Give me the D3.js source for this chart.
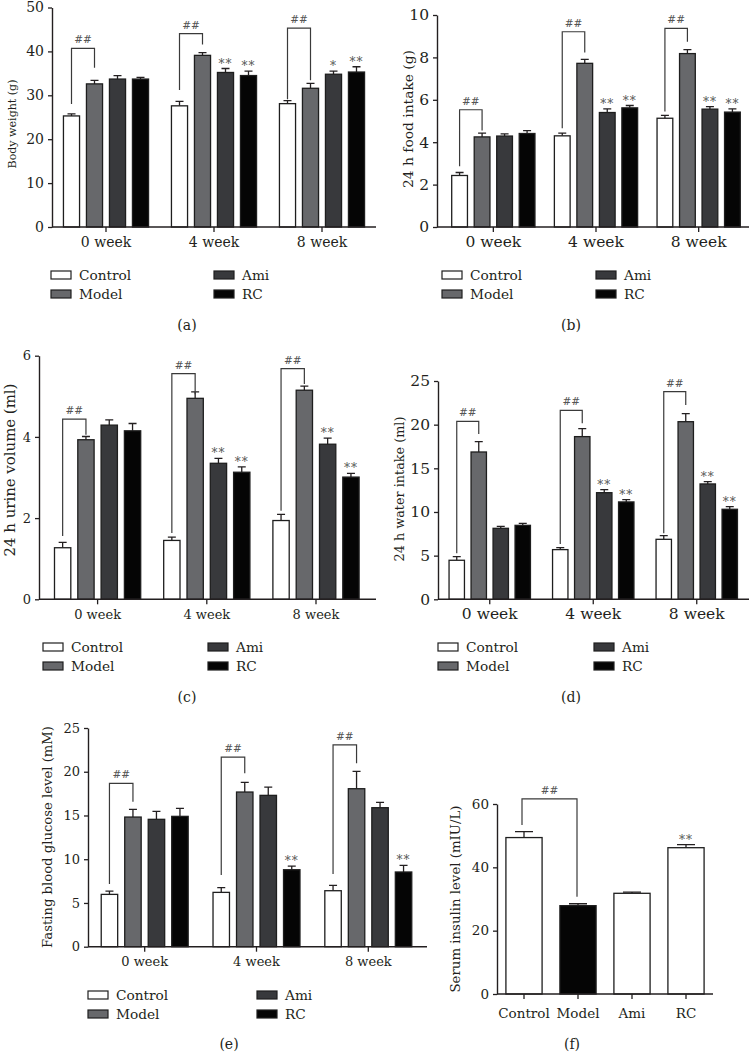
<!DOCTYPE html>
<html><head><meta charset="utf-8">
<script src="https://cdn.jsdelivr.net/npm/d3@7"></script>
<style>
body{margin:0;background:#fff}
svg text{font-family:"DejaVu Serif",serif;fill:#231f20}
</style>
</head><body>
<svg id="chart" width="750" height="1053"></svg>
<script>
// ---------- DATA ----------
const groups = ["0 week", "4 week", "8 week"];
const series = ["Control", "Model", "Ami", "RC"];

// rows = groups, columns = series
const bodyWeight     = [[25.3, 32.6, 33.7, 33.7], [27.6, 39.1, 35.2, 34.5], [28.1, 31.6, 34.8, 35.3]];
const bodyWeightErr  = [[0.45, 0.8, 0.8, 0.4], [1.0, 0.6, 0.9, 1.0], [0.7, 1.1, 0.7, 1.2]];
const bodyWeightSig  = [["", "", "", ""], ["", "", "**", "**"], ["", "", "*", "**"]];
const bodyWeightBrk  = [[40.7, 28.0, 36.3], [44.05, 31.2, 41.6], [45.3, 29.1, 33.4]];

const foodIntake     = [[2.43, 4.25, 4.29, 4.41], [4.30, 7.72, 5.40, 5.62], [5.13, 8.18, 5.56, 5.42]];
const foodIntakeErr  = [[0.14, 0.18, 0.10, 0.14], [0.13, 0.19, 0.17, 0.11], [0.14, 0.19, 0.12, 0.15]];
const foodIntakeSig  = [["", "", "", ""], ["", "", "**", "**"], ["", "", "**", "**"]];
const foodIntakeBrk  = [[5.53, 2.86, 4.55], [9.21, 4.66, 8.23], [9.37, 5.45, 8.74]];

const urineVolume    = [[1.27, 3.93, 4.29, 4.15], [1.45, 4.95, 3.35, 3.13], [1.94, 5.15, 3.82, 3.01]];
const urineVolumeErr = [[0.13, 0.08, 0.13, 0.18], [0.08, 0.16, 0.12, 0.13], [0.15, 0.10, 0.15, 0.09]];
const urineVolumeSig = [["", "", "", ""], ["", "", "**", "**"], ["", "", "**", "**"]];
const urineVolumeBrk = [[4.44, 1.56, 4.05], [5.56, 1.63, 5.05], [5.68, 2.18, 5.3]];

const waterIntake    = [[4.47, 16.87, 8.13, 8.47], [5.69, 18.63, 12.21, 11.15], [6.87, 20.34, 13.21, 10.31]];
const waterIntakeErr = [[0.42, 1.18, 0.23, 0.23], [0.23, 0.91, 0.35, 0.26], [0.42, 0.92, 0.26, 0.30]];
const waterIntakeSig = [["", "", "", ""], ["", "", "**", "**"], ["", "", "**", "**"]];
const waterIntakeBrk = [[20.38, 5.27, 18.93], [21.64, 6.34, 20.15], [23.78, 7.56, 22.25]];

const glucose        = [[5.98, 14.82, 14.56, 14.90], [6.21, 17.68, 17.30, 8.80], [6.40, 18.06, 15.89, 8.54]];
const glucoseErr     = [[0.38, 0.88, 0.91, 0.92], [0.54, 1.11, 0.95, 0.42], [0.61, 1.99, 0.60, 0.76]];
const glucoseSig     = [["", "", "", ""], ["", "", "", "**"], ["", "", "", "**"]];
const glucoseBrk     = [[18.67, 7.16, 16.58], [21.68, 8.19, 19.82], [23.06, 8.31, 20.96]];

const insulin        = [49.4, 27.9, 31.8, 46.2];
const insulinErr     = [1.9, 0.6, 0.4, 1.0];
const insulinSig     = ["", "", "", "**"];
const insulinBrk     = [61.6, 53.4, 30.7];

const ticksA = [0, 10, 20, 30, 40, 50];
const ticksB = [0, 2, 4, 6, 8, 10];
const ticksC = [0, 2, 4, 6];
const ticksD = [0, 5, 10, 15, 20, 25];
const ticksE = [0, 5, 10, 15, 20, 25];
const ticksF = [0, 20, 40, 60];

// ---------- STYLE ----------
const fills = {Control: "#ffffff", Model: "#67686b", Ami: "#38393c", RC: "#050505"};
const insulinFills = ["#ffffff", "#050505", "#ffffff", "#ffffff"];
const ink = "#231f20";
const markInk = "#555";
const intFmt = d3.format("d");

const svg = d3.select("#chart");

function fitLabel(sel, target) {
  sel.style("font-size", "14px");
  const len = sel.node().getComputedTextLength();
  sel.style("font-size", (14 * target / len).toFixed(2) + "px");
}

function styleAxis(g) {
  g.select(".domain").attr("stroke", ink).attr("stroke-width", 1.4);
  g.selectAll(".tick line").attr("stroke", ink).attr("stroke-width", 1.3);
}

function drawBracket(g, x1, x2, yTop, yL, yR) {
  g.append("path")
    .attr("d", `M${x1},${yL}V${yTop}H${x2}V${yR}`)
    .attr("fill", "none").attr("stroke", "#3a3a3a").attr("stroke-width", 1.2);
  g.append("text").attr("x", (x1 + x2) / 2).attr("y", yTop - 5)
    .attr("text-anchor", "middle").style("font-size", "10.5px").style("fill", markInk)
    .text("##");
}

function drawGroupedPanel(p) {
  const g = svg.append("g");
  const x0 = d3.scaleBand().domain(groups).range(p.xRange);
  const x1 = d3.scaleBand().domain(series).range([-2 * p.s, 2 * p.s]).paddingInner(0.3).paddingOuter(0.15);
  const y = d3.scaleLinear().domain(p.yDomain).range(p.yRange);
  const cx = (grp, s) => x0(grp) + x0.bandwidth() / 2 + x1(s) + x1.bandwidth() / 2;

  const rows = [];
  groups.forEach((grp, gi) => series.forEach((s, si) => rows.push({
    grp, s, v: p.values[gi][si], e: p.errs[gi][si], sig: p.sig[gi][si]
  })));

  // error bars (upper only)
  const eb = g.append("g").attr("stroke", ink).attr("stroke-width", 1.3);
  eb.selectAll("path").data(rows).join("path")
    .attr("fill", "none")
    .attr("d", d => {
      const c = cx(d.grp, d.s), t = y(d.v + d.e);
      return `M${c},${y(d.v)}V${t}M${c - 4},${t}H${c + 4}`;
    });

  // bars
  g.append("g").selectAll("rect").data(rows).join("rect")
    .attr("x", d => x0(d.grp) + x0.bandwidth() / 2 + x1(d.s))
    .attr("width", x1.bandwidth())
    .attr("y", d => y(d.v))
    .attr("height", d => y(0) - y(d.v))
    .attr("fill", d => fills[d.s])
    .attr("stroke", "#1e1e1e").attr("stroke-width", 1.3);

  // significance stars
  g.append("g").selectAll("text").data(rows.filter(d => d.sig)).join("text")
    .attr("x", d => cx(d.grp, d.s)).attr("y", d => y(d.v + d.e) - 1)
    .attr("text-anchor", "middle").style("font-size", "12px").style("fill", markInk)
    .style("letter-spacing", "1px")
    .text(d => d.sig);

  // brackets
  groups.forEach((grp, gi) => {
    const b = p.brk[gi];
    drawBracket(g, cx(grp, "Control"), cx(grp, "Model"), y(b[0]), y(b[1]), y(b[2]));
  });

  // axes
  const ya = g.append("g").attr("transform", `translate(${p.axisX},0)`)
    .call(d3.axisLeft(y).tickValues(p.yTicks).tickFormat(intFmt).tickSize(4).tickSizeOuter(0).tickPadding(4));
  ya.selectAll("text").style("font-size", p.fs + "px").style("font-family", "DejaVu Serif");
  styleAxis(ya);

  const xa = g.append("g").attr("transform", `translate(0,${p.yRange[0]})`)
    .call(d3.axisBottom(x0).tickSize(5).tickSizeOuter(0));
  xa.select(".domain").remove();
  xa.selectAll(".tick text").attr("y", p.xLabY - p.yRange[0]).attr("dy", 0)
    .style("font-size", p.fs + "px").style("font-family", "DejaVu Serif");
  styleAxis(xa);
  g.append("line").attr("x1", p.axisX).attr("x2", p.axisEnd)
    .attr("y1", p.yRange[0]).attr("y2", p.yRange[0])
    .attr("stroke", ink).attr("stroke-width", 1.4);

  // y label
  const yl = g.append("text")
    .attr("transform", `translate(${p.yl[0]},${p.yl[1]}) rotate(-90)`)
    .attr("text-anchor", "middle").attr("dy", "0.35em").text(p.ylabel);
  fitLabel(yl, p.yl[2]);

  // legend
  series.forEach((s, i) => {
    const col = i < 2 ? 0 : 1, row = i % 2;
    const lx = p.legX[col], ly = p.legY[row];
    g.append("rect").attr("x", lx).attr("y", ly).attr("width", 20).attr("height", 8)
      .attr("fill", fills[s]).attr("stroke", "#1e1e1e").attr("stroke-width", 1.2);
    g.append("text").attr("x", lx + 28).attr("y", ly + 4).attr("dy", "0.35em")
      .style("font-size", "13.7px").text(s);
  });

  // caption
  g.append("text").attr("x", p.cap[0]).attr("y", p.cap[1]).attr("text-anchor", "middle")
    .style("font-size", "14px").text(p.cap[2]);
}

drawGroupedPanel({values: bodyWeight, errs: bodyWeightErr, sig: bodyWeightSig, brk: bodyWeightBrk,
  xRange: [52, 376], axisX: 52, axisEnd: 376, yDomain: [0, 50], yRange: [227, 7.5], yTicks: ticksA,
  s: 23, fs: 14, xLabY: 247, ylabel: "Body weight (g)", yl: [12, 124, 89],
  legX: [51, 214], legY: [271, 290], cap: [187, 330, "(a)"]});

drawGroupedPanel({values: foodIntake, errs: foodIntakeErr, sig: foodIntakeSig, brk: foodIntakeBrk,
  xRange: [442, 750], axisX: 437, axisEnd: 749, yDomain: [0, 10], yRange: [227, 15], yTicks: ticksB,
  s: 22.5, fs: 15.5, xLabY: 247, ylabel: "24 h food intake (g)", yl: [408, 119, 138],
  legX: [442, 596], legY: [271, 290], cap: [571, 330, "(b)"]});

drawGroupedPanel({values: urineVolume, errs: urineVolumeErr, sig: urineVolumeSig, brk: urineVolumeBrk,
  xRange: [43, 370.6], axisX: 39, axisEnd: 376, yDomain: [0, 6], yRange: [599.3, 355.7], yTicks: ticksC,
  s: 23.3, fs: 13, xLabY: 619, ylabel: "24 h urine volume (ml)", yl: [10, 470, 173],
  legX: [43, 208], legY: [643, 662], cap: [187, 702, "(c)"]});

drawGroupedPanel({values: waterIntake, errs: waterIntakeErr, sig: waterIntakeSig, brk: waterIntakeBrk,
  xRange: [438, 748.5], axisX: 438, axisEnd: 749, yDomain: [0, 25], yRange: [599.3, 381], yTicks: ticksD,
  s: 22, fs: 15.5, xLabY: 619, ylabel: "24 h water intake (ml)", yl: [400, 489, 145],
  legX: [438, 594], legY: [643, 662], cap: [571, 702, "(d)"]});

drawGroupedPanel({values: glucose, errs: glucoseErr, sig: glucoseSig, brk: glucoseBrk,
  xRange: [88.8, 424.2], axisX: 88, axisEnd: 427, yDomain: [0, 25], yRange: [946.7, 728], yTicks: ticksE,
  s: 23.5, fs: 13, xLabY: 966, ylabel: "Fasting blood glucose level (mM)", yl: [47, 837, 222],
  legX: [88, 257], legY: [991, 1010], cap: [229, 1049, "(e)"]});

// ---------- panel (f) ----------
(function () {
  const g = svg.append("g");
  const x = d3.scaleBand().domain(series).range([497, 713]).paddingInner(0.33).paddingOuter(0.165);
  const y = d3.scaleLinear().domain([0, 60]).range([994, 804]);
  const rows = series.map((s, i) => ({s, v: insulin[i], e: insulinErr[i], sig: insulinSig[i], f: insulinFills[i]}));
  const cx = s => x(s) + x.bandwidth() / 2;

  g.append("g").attr("stroke", ink).attr("stroke-width", 1.3).selectAll("path").data(rows).join("path")
    .attr("fill", "none")
    .attr("d", d => { const c = cx(d.s), t = y(d.v + d.e); return `M${c},${y(d.v)}V${t}M${c - 9},${t}H${c + 9}`; });

  g.append("g").selectAll("rect").data(rows).join("rect")
    .attr("x", d => x(d.s)).attr("width", x.bandwidth())
    .attr("y", d => y(d.v)).attr("height", d => y(0) - y(d.v))
    .attr("fill", d => d.f).attr("stroke", "#1e1e1e").attr("stroke-width", 1.3);

  g.append("g").selectAll("text").data(rows.filter(d => d.sig)).join("text")
    .attr("x", d => cx(d.s)).attr("y", d => y(d.v + d.e) - 1)
    .attr("text-anchor", "middle").style("font-size", "12px").style("fill", markInk)
    .style("letter-spacing", "1px").text(d => d.sig);

  drawBracket(g, cx("Control") - 2, cx("Model") - 1, y(insulinBrk[0]), y(insulinBrk[1]), y(insulinBrk[2]));

  const ya = g.append("g").attr("transform", "translate(497,0)")
    .call(d3.axisLeft(y).tickValues(ticksF).tickFormat(intFmt).tickSize(4).tickSizeOuter(0).tickPadding(4));
  ya.selectAll("text").style("font-size", "13.5px").style("font-family", "DejaVu Serif");
  styleAxis(ya);

  const xa = g.append("g").attr("transform", "translate(0,994)")
    .call(d3.axisBottom(x).tickSize(5).tickSizeOuter(0));
  xa.select(".domain").remove();
  xa.selectAll(".tick text").attr("y", 1018 - 994).attr("dy", 0)
    .style("font-size", "13.5px").style("font-family", "DejaVu Serif");
  styleAxis(xa);
  g.append("line").attr("x1", 497).attr("x2", 713).attr("y1", 994).attr("y2", 994)
    .attr("stroke", ink).attr("stroke-width", 1.4);

  const yl = g.append("text").attr("transform", "translate(455,899) rotate(-90)")
    .attr("text-anchor", "middle").attr("dy", "0.35em").text("Serum insulin level (mIU/L)");
  fitLabel(yl, 187);

  g.append("text").attr("x", 572).attr("y", 1049).attr("text-anchor", "middle")
    .style("font-size", "14px").text("(f)");
})();
</script>
</body></html>
